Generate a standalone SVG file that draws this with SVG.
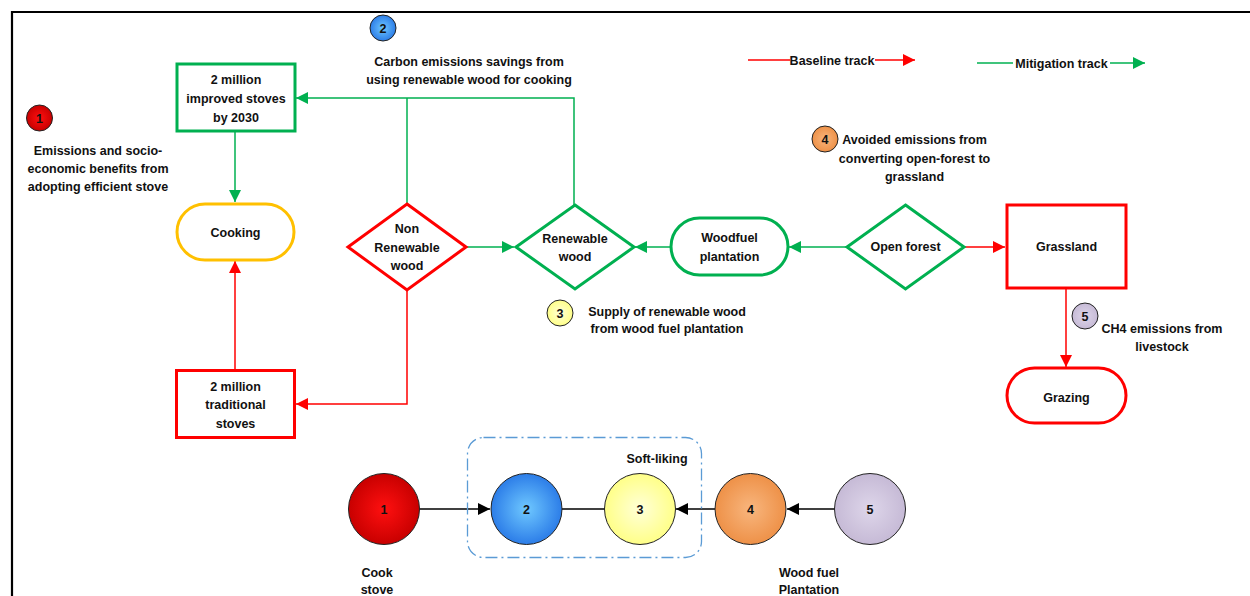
<svg xmlns="http://www.w3.org/2000/svg" width="1250" height="596" viewBox="0 0 1250 596">
<style>
text{font-family:"Liberation Sans",Arial,sans-serif;font-weight:bold;font-size:12.5px;fill:#111;text-anchor:middle}
.g{fill:#fff;stroke:#00B050;stroke-width:3}
.r{fill:#fff;stroke:#FF0000;stroke-width:3}
.y{fill:#fff;stroke:#FFC000;stroke-width:3}
.cg{fill:none;stroke:#00B050;stroke-width:1.5}
.cr{fill:none;stroke:#FF0000;stroke-width:1.5}
.ck{fill:none;stroke:#000;stroke-width:1.5}
.b{stroke:#222;stroke-width:1}
</style>
<defs>
<marker id="ag" markerUnits="userSpaceOnUse" markerWidth="12" markerHeight="12" refX="12" refY="6" orient="auto"><path d="M0,0 L12,6 L0,12 z" fill="#00B050"/></marker>
<marker id="ar" markerUnits="userSpaceOnUse" markerWidth="12" markerHeight="12" refX="12" refY="6" orient="auto"><path d="M0,0 L12,6 L0,12 z" fill="#FF0000"/></marker>
<marker id="ak" markerUnits="userSpaceOnUse" markerWidth="12" markerHeight="12" refX="12" refY="6" orient="auto"><path d="M0,0 L12,6 L0,12 z" fill="#000"/></marker>
<radialGradient id="g1"><stop offset="0" stop-color="#FF1010"/><stop offset="1" stop-color="#C80000"/></radialGradient>
<radialGradient id="g2"><stop offset="0" stop-color="#6FC8FF"/><stop offset="1" stop-color="#2C7DE8"/></radialGradient>
<radialGradient id="g3"><stop offset="0" stop-color="#FFFFD8"/><stop offset="1" stop-color="#FFFF88"/></radialGradient>
<radialGradient id="g4"><stop offset="0" stop-color="#F8B67E"/><stop offset="1" stop-color="#EE9148"/></radialGradient>
<radialGradient id="g5"><stop offset="0" stop-color="#DED6EA"/><stop offset="1" stop-color="#C6BAD6"/></radialGradient>
</defs>
<g id="frame" fill="none" stroke="#000" stroke-width="2.2">
<path d="M12,596 V12 H1250"/>
</g>
<g id="connectors">
<path class="cg" d="M235,132 V202" marker-end="url(#ag)"/>
<path class="cr" d="M235,370 V261" marker-end="url(#ar)"/>
<path class="cg" d="M407,203 V98"/>
<path class="cg" d="M574,205 V98 H296" marker-end="url(#ag)"/>
<path class="cg" d="M466,247 H514" marker-end="url(#ag)"/>
<path class="cr" d="M407,290 V404 H296" marker-end="url(#ar)"/>
<path class="cg" d="M671,247 H635" marker-end="url(#ag)"/>
<path class="cg" d="M847,247 H789" marker-end="url(#ag)"/>
<path class="cr" d="M964,247 H1005" marker-end="url(#ar)"/>
<path class="cr" d="M1066,289 V367" marker-end="url(#ar)"/>
<path class="ck" d="M420,509 H490" marker-end="url(#ak)"/>
<path class="ck" d="M562,509 H605"/>
<path class="ck" d="M715,509 H676" marker-end="url(#ak)"/>
<path class="ck" d="M835,509 H787" marker-end="url(#ak)"/>
</g>
<g id="legend">
<path class="cr" d="M748,60 H790"/>
<path class="cr" d="M875,60 H915" marker-end="url(#ar)"/>
<text x="832" y="64.5">Baseline track</text>
<path class="cg" d="M977,63 H1013"/>
<path class="cg" d="M1110,63 H1145" marker-end="url(#ag)"/>
<text x="1061.5" y="67.5">Mitigation track</text>
</g>
<g id="improved-stoves">
<rect class="g" x="177" y="64" width="118" height="67"/>
<text x="236" y="84">2 million</text>
<text x="236" y="103">improved stoves</text>
<text x="236" y="121.5">by 2030</text>
</g>
<g id="cooking">
<rect class="y" x="177" y="204" width="117" height="56" rx="28" ry="28"/>
<text x="235.5" y="236.5">Cooking</text>
</g>
<g id="traditional-stoves">
<rect class="r" x="176.5" y="370.5" width="118" height="67"/>
<text x="235.5" y="391">2 million</text>
<text x="235.5" y="409">traditional</text>
<text x="235.5" y="427.5">stoves</text>
</g>
<g id="non-renewable-wood">
<path class="r" d="M407,204 L466,247 L407,290 L348,247 z"/>
<text x="407" y="232.5">Non</text>
<text x="407" y="251.5">Renewable</text>
<text x="407" y="270">wood</text>
</g>
<g id="renewable-wood">
<path class="g" d="M575,205 L634,247 L575,289 L516,247 z"/>
<text x="575" y="242.5">Renewable</text>
<text x="575" y="260.5">wood</text>
</g>
<g id="woodfuel-plantation">
<rect class="g" x="671" y="218" width="117" height="57" rx="28.5" ry="28.5"/>
<text x="729.5" y="241.5">Woodfuel</text>
<text x="729.5" y="260.5">plantation</text>
</g>
<g id="open-forest">
<path class="g" d="M905.5,205 L964,247 L905.5,289 L847,247 z"/>
<text x="905.5" y="250.5">Open forest</text>
</g>
<g id="grassland">
<rect class="r" x="1007" y="205" width="119" height="83"/>
<text x="1066.5" y="250.5">Grassland</text>
</g>
<g id="grazing">
<rect class="r" x="1007" y="368" width="119" height="55" rx="27.5" ry="27.5"/>
<text x="1066.5" y="401.5">Grazing</text>
</g>
<g id="note-1">
<circle class="b" cx="39.5" cy="118" r="13" fill="url(#g1)"/>
<text x="39.5" y="122.5">1</text>
<text x="98" y="154.5">Emissions and socio-</text>
<text x="98" y="172.5">economic benefits from</text>
<text x="98" y="190.5">adopting efficient stove</text>
</g>
<g id="note-2">
<circle class="b" cx="383" cy="28" r="13" fill="url(#g2)"/>
<text x="383" y="32.5">2</text>
<text x="469" y="66">Carbon emissions savings from</text>
<text x="469" y="83.5">using renewable wood for cooking</text>
</g>
<g id="note-3">
<circle class="b" cx="560" cy="313" r="13" fill="url(#g3)"/>
<text x="560" y="317.5">3</text>
<text x="667" y="315.5">Supply of renewable wood</text>
<text x="667" y="332.5">from wood fuel plantation</text>
</g>
<g id="note-4">
<circle class="b" cx="825" cy="139" r="13" fill="url(#g4)"/>
<text x="825" y="143.5">4</text>
<text x="914.5" y="143.5">Avoided emissions from</text>
<text x="914.5" y="162.5">converting open-forest to</text>
<text x="914.5" y="180.5">grassland</text>
</g>
<g id="note-5">
<circle class="b" cx="1085" cy="316" r="13" fill="url(#g5)"/>
<text x="1085" y="320.5">5</text>
<text x="1162" y="332.5">CH4 emissions from</text>
<text x="1162" y="350.5">livestock</text>
</g>
<g id="soft-linking">
<rect x="467.5" y="437.5" width="234" height="120" rx="16" ry="16" fill="none" stroke="#5B9BD5" stroke-width="1.3" stroke-dasharray="12,4,2,4"/>
<text x="657" y="462.5">Soft-liking</text>
</g>
<g id="circle-1">
<circle class="b" cx="384" cy="509" r="35.5" fill="url(#g1)"/>
<text x="384" y="514">1</text>
<text x="377" y="576.5">Cook</text>
<text x="377" y="593.5">stove</text>
</g>
<g id="circle-2">
<circle class="b" cx="526.5" cy="509" r="35.5" fill="url(#g2)"/>
<text x="526.5" y="514">2</text>
</g>
<g id="circle-3">
<circle class="b" cx="640" cy="509" r="35.5" fill="url(#g3)"/>
<text x="640" y="514">3</text>
</g>
<g id="circle-4">
<circle class="b" cx="750.5" cy="509" r="35.5" fill="url(#g4)"/>
<text x="750.5" y="514">4</text>
<text x="809" y="576.5">Wood fuel</text>
<text x="809" y="594">Plantation</text>
</g>
<g id="circle-5">
<circle class="b" cx="870" cy="509" r="35.5" fill="url(#g5)"/>
<text x="870" y="514">5</text>
</g>
</svg>
